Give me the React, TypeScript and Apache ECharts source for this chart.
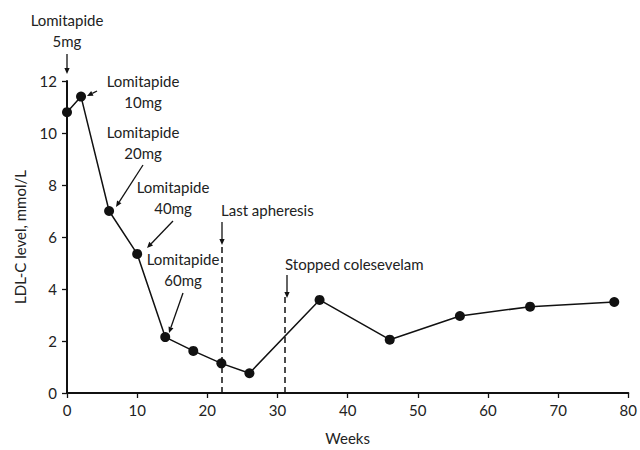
import React, { useEffect, useRef } from "react";
import * as echarts from "echarts";

const weeks = [0, 2, 6, 10, 14, 18, 22, 26, 36, 46, 56, 66, 78];
const ldl = [10.8, 11.4, 7.0, 5.35, 2.15, 1.62, 1.14, 0.76, 3.58, 2.05, 2.96, 3.32, 3.5];
const xTicks = { min: 0, max: 80, interval: 10 };
const yTicks = { min: 0, max: 12, interval: 2 };
const eventWeeks = [22, 31];
const eventTops = [5.8, 3.75];

const FONT = "Lato, 'Open Sans', sans-serif";
const TXT = "#222";

// annotation texts (pixel layout)
const labels = [
  { text: "Lomitapide\n5mg", x: 67, y: 9, align: "center" },
  { text: "Lomitapide\n10mg", x: 143, y: 70, align: "center" },
  { text: "Lomitapide\n20mg", x: 143, y: 121, align: "center" },
  { text: "Lomitapide\n40mg", x: 173, y: 176, align: "center" },
  { text: "Lomitapide\n60mg", x: 183, y: 248, align: "center" },
  { text: "Last apheresis", x: 221, y: 199, align: "left" },
  { text: "Stopped colesevelam", x: 285, y: 253, align: "left" },
];
const arrows = [
  [67, 54, 67, 74],
  [97, 91, 87, 96],
  [143, 165, 116, 207],
  [173, 221, 147, 248],
  [183, 293, 169, 333],
  [222, 222, 222, 245],
  [287, 275, 287, 298],
];

function arrowEls(a: number[]) {
  const [x1, y1, x2, y2] = a;
  const dx = x2 - x1, dy = y2 - y1;
  const len = Math.sqrt(dx * dx + dy * dy);
  const ux = dx / len, uy = dy / len;
  const hl = 6, hw = 2.6;
  const bx = x2 - ux * hl, by = y2 - uy * hl;
  return [
    {
      type: "line",
      shape: { x1, y1, x2: bx, y2: by },
      style: { stroke: "#111", lineWidth: 1.3 },
    },
    {
      type: "polygon",
      shape: {
        points: [
          [x2, y2],
          [bx - uy * hw, by + ux * hw],
          [bx + uy * hw, by - ux * hw],
        ],
      },
      style: { fill: "#111" },
    },
  ];
}

export default function App() {
  const ref = useRef<HTMLDivElement>(null);
  useEffect(() => {
    const chart = echarts.init(ref.current!, null, { renderer: "svg" });
    const graphics: any[] = [];
    labels.forEach((l) =>
      graphics.push({
        type: "text",
        x: l.x,
        y: l.y,
        style: {
          text: l.text,
          fill: TXT,
          font: `15px ${FONT}`,
          lineHeight: 21,
          align: l.align,
          verticalAlign: "top",
        },
      })
    );
    arrows.forEach((a) => graphics.push(...arrowEls(a)));
    chart.setOption({
      animation: false,
      grid: { left: 67, right: 7, top: 81, bottom: 54, containLabel: false },
      xAxis: {
        type: "value",
        ...xTicks,
        name: "Weeks",
        nameLocation: "middle",
        nameGap: 37,
        nameTextStyle: { color: TXT, fontSize: 15, fontFamily: FONT },
        axisLine: { lineStyle: { color: "#111", width: 2 } },
        axisTick: { show: true, length: 5, lineStyle: { color: "#111", width: 1.3 } },
        axisLabel: { color: TXT, fontSize: 15, fontFamily: FONT, margin: 9 },
        splitLine: { show: false },
      },
      yAxis: {
        type: "value",
        ...yTicks,
        name: "LDL-C level, mmol/L",
        nameLocation: "middle",
        nameGap: 40,
        nameTextStyle: { color: TXT, fontSize: 15, fontFamily: FONT },
        axisLine: { show: true, lineStyle: { color: "#111", width: 2 } },
        axisTick: { show: true, length: 5, lineStyle: { color: "#111", width: 1.3 } },
        axisLabel: { color: TXT, fontSize: 15, fontFamily: FONT, margin: 10 },
        splitLine: { show: false },
      },
      series: [
        {
          type: "line",
          data: weeks.map((w, i) => [w, ldl[i]]),
          symbol: "circle",
          symbolSize: 10,
          itemStyle: { color: "#111" },
          lineStyle: { color: "#111", width: 1.5 },
          z: 3,
          markLine: {
            silent: true,
            symbol: ["none", "none"],
            label: { show: false },
            lineStyle: { color: "#111", type: [6, 4], width: 1.5 },
            data: eventWeeks.map((w, i) => [
              { coord: [w, 0] },
              { coord: [w, eventTops[i]] },
            ]),
          },
        },
      ],
      graphic: graphics,
    });
    return () => chart.dispose();
  }, []);
  return (
    <div
      ref={ref}
      style={{ position: "absolute", left: 0, top: 0, width: 640, height: 450 }}
    />
  );
}
